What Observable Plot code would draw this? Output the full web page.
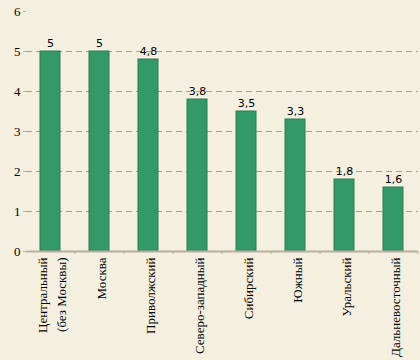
<!DOCTYPE html>
<html>
<head>
<meta charset="utf-8">
<script src="https://cdn.jsdelivr.net/npm/d3@7"></script>
<script src="https://cdn.jsdelivr.net/npm/@observablehq/plot@0.6"></script>
<style>
html, body { margin: 0; padding: 0; background: #f5efe0; }
#chart svg { display: block; }
</style>
</head>
<body>
<div id="chart"></div>
<script>
const categories = ["Центральный\n(без Москвы)", "Москва", "Приволжский", "Северо-западный", "Сибирский", "Южный", "Уральский", "Дальневосточный"];
const values = [5, 5, 4.8, 3.8, 3.5, 3.3, 1.8, 1.6];
const yTicks = [0, 1, 2, 3, 4, 5, 6];
const gridLines = [1, 2, 3, 4, 5];

const data = categories.map((c, i) => ({category: c, value: values[i]}));
const fmt = v => String(v).replace(".", ",");

const W = 420, H = 360, mL = 26, mR = 2;
const step = (W - mL - mR) / categories.length;
const serif = "Liberation Serif, Times New Roman, serif";

const chart = Plot.plot({
  width: W,
  height: H,
  marginLeft: mL,
  marginRight: mR,
  marginTop: 11,
  marginBottom: 109,
  style: {background: "#f5efe0", fontFamily: serif, fontSize: "13px", color: "#000"},
  x: {domain: categories, paddingInner: 0.59, paddingOuter: 0.295, label: null},
  y: {domain: [0, 6], label: null},
  marks: [
    Plot.ruleY(gridLines, {stroke: "#a39d92", strokeDasharray: "6,4", strokeWidth: 1}),
    Plot.barY(data, {x: "category", y: "value", fill: "#339966", stroke: "#2b7d55", strokeWidth: 1}),
    Plot.text(data, {x: "category", y: "value", text: d => fmt(d.value), dy: -8, fontFamily: "DejaVu Sans, sans-serif", fontSize: 11, fill: "#000"}),
    Plot.ruleY([0], {stroke: "#b8b0a0", strokeWidth: 2}),
    Plot.ruleX([0], {frameAnchor: "left", stroke: "#b8b0a0", strokeWidth: 2}),
    Plot.axisY({ticks: yTicks, tickSize: 3, tickPadding: 3, tickFormat: d => d, stroke: "#b8b0a0", fontFamily: serif, fontSize: 13, label: null}),
    Plot.axisX({tickSize: 0, tickPadding: 6, tickRotate: -90, fontFamily: serif, fontSize: 13, label: null, lineHeight: 1.5, lineAnchor: "middle"}),
    Plot.axisX({tickSize: 3, text: null, dx: step / 2, stroke: "#b8b0a0", label: null})
  ]
});
document.getElementById("chart").appendChild(chart);
</script>
</body>
</html>
